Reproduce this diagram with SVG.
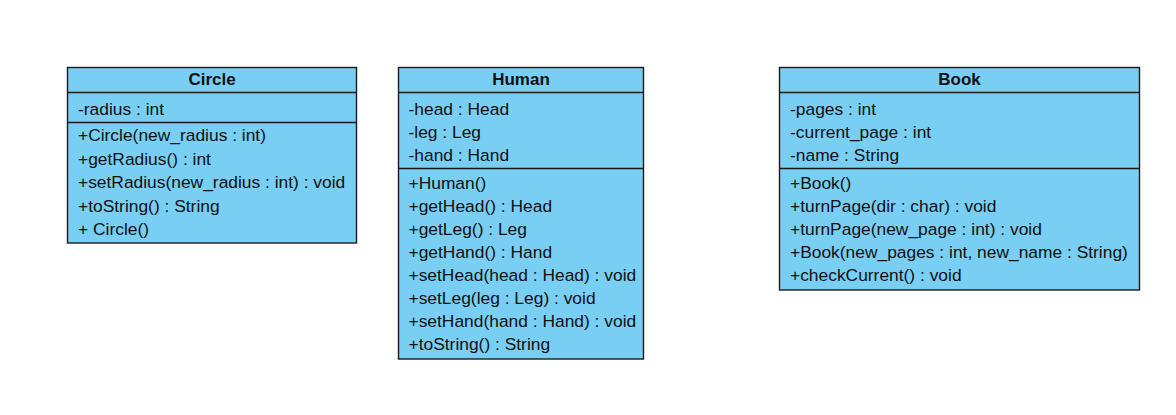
<svg xmlns="http://www.w3.org/2000/svg" width="1176" height="415" viewBox="0 0 1176 415">
<style>
.box{fill:#79cef4;stroke:#1b1b1b;stroke-width:1.4}
.div{stroke:#1b1b1b;stroke-width:1.4}
.t{font-family:"Liberation Sans",Arial,sans-serif;font-size:17.4px;fill:#111}
.h{font-family:"Liberation Sans",Arial,sans-serif;font-size:17px;font-weight:bold;fill:#111;text-anchor:middle}
</style>
<rect width="1176" height="415" fill="#fff"/>
<g id="circle">
<rect class="box" x="67.5" y="67.5" width="289" height="175.5"/>
<line class="div" x1="67.5" y1="92.5" x2="356.5" y2="92.5"/>
<line class="div" x1="67.5" y1="122.5" x2="356.5" y2="122.5"/>
<text class="h" x="212" y="85">Circle</text>
<text class="t" x="78" y="115">-radius : int</text>
<text class="t" x="78" y="141">+Circle(new_radius : int)</text>
<text class="t" x="78" y="164.5">+getRadius() : int</text>
<text class="t" x="78" y="188">+setRadius(new_radius : int) : void</text>
<text class="t" x="78" y="211.5">+toString() : String</text>
<text class="t" x="78" y="235">+ Circle()</text>
</g>
<g id="human">
<rect class="box" x="398.5" y="67.5" width="245" height="291.5"/>
<line class="div" x1="398.5" y1="92.5" x2="643.5" y2="92.5"/>
<line class="div" x1="398.5" y1="168.5" x2="643.5" y2="168.5"/>
<text class="h" x="521" y="85">Human</text>
<text class="t" x="408.5" y="115">-head : Head</text>
<text class="t" x="408.5" y="138">-leg : Leg</text>
<text class="t" x="408.5" y="161">-hand : Hand</text>
<text class="t" x="408.5" y="189">+Human()</text>
<text class="t" x="408.5" y="212">+getHead() : Head</text>
<text class="t" x="408.5" y="235">+getLeg() : Leg</text>
<text class="t" x="408.5" y="258">+getHand() : Hand</text>
<text class="t" x="408.5" y="281">+setHead(head : Head) : void</text>
<text class="t" x="408.5" y="304">+setLeg(leg : Leg) : void</text>
<text class="t" x="408.5" y="327">+setHand(hand : Hand) : void</text>
<text class="t" x="408.5" y="350">+toString() : String</text>
</g>
<g id="book">
<rect class="box" x="779.5" y="67.5" width="360" height="222.5"/>
<line class="div" x1="779.5" y1="92.5" x2="1139.5" y2="92.5"/>
<line class="div" x1="779.5" y1="168.5" x2="1139.5" y2="168.5"/>
<text class="h" x="959.5" y="85">Book</text>
<text class="t" x="790" y="115">-pages : int</text>
<text class="t" x="790" y="138">-current_page : int</text>
<text class="t" x="790" y="161">-name : String</text>
<text class="t" x="790" y="188.5">+Book()</text>
<text class="t" x="790" y="211.5">+turnPage(dir : char) : void</text>
<text class="t" x="790" y="234.5">+turnPage(new_page : int) : void</text>
<text class="t" x="790" y="257.5">+Book(new_pages : int, new_name : String)</text>
<text class="t" x="790" y="280.5">+checkCurrent() : void</text>
</g>
<g id="connectors"></g>
</svg>
